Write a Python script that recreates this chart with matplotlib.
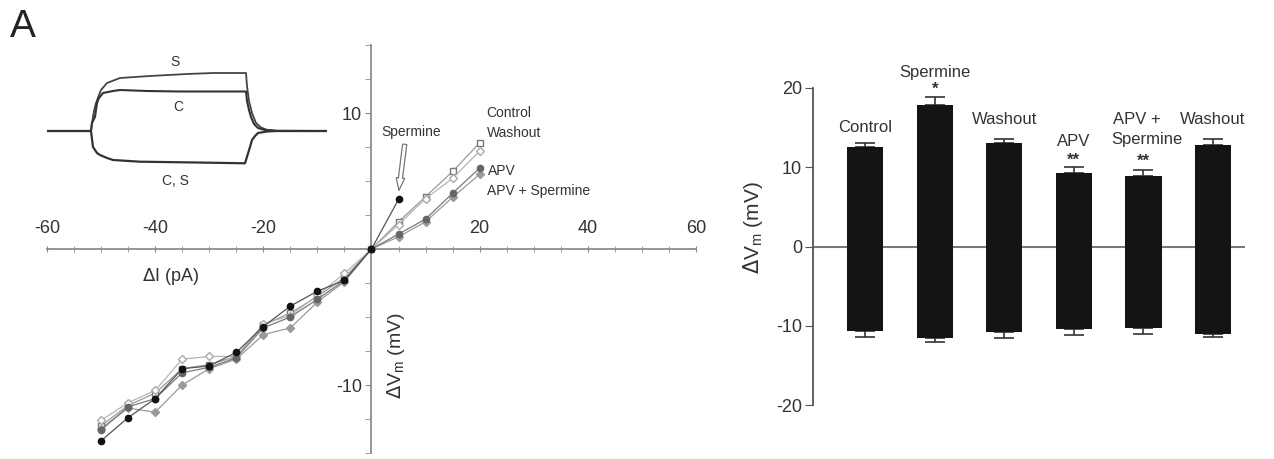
import numpy as np
import matplotlib
matplotlib.use('Agg')
import matplotlib.pyplot as plt
from matplotlib.ticker import MultipleLocator

plt.rcParams['font.family'] = ['Liberation Sans', 'DejaVu Sans']
plt.rcParams['axes.unicode_minus'] = False

# I-V data (current step in pA, voltage change in mV)
di_full = [-50, -45, -40, -35, -30, -25, -20, -15, -10, -5, 0, 5, 10, 15, 20]
di_sperm = [-50, -45, -40, -35, -30, -25, -20, -15, -10, -5, 0, 5]
dv_control = [-13.0, -11.5, -10.6, -8.8, -8.5, -7.9, -5.6, -4.7, -3.5, -2.1, 0, 2.0, 3.85, 5.7, 7.8]
dv_spermine = [-14.1, -12.4, -11.0, -8.8, -8.6, -7.6, -5.7, -4.2, -3.1, -2.3, 0, 3.65]
dv_washout = [-12.6, -11.3, -10.4, -8.1, -7.9, -7.9, -5.5, -4.9, -3.4, -1.8, 0, 1.8, 3.7, 5.2, 7.2]
dv_apv = [-13.3, -11.6, -11.0, -9.1, -8.7, -8.0, -5.8, -5.0, -3.7, -2.3, 0, 1.1, 2.2, 4.1, 5.95]
dv_apv_sperm = [-13.2, -11.7, -12.0, -10.0, -8.8, -8.1, -6.3, -5.8, -3.9, -2.4, 0, 0.9, 2.0, 3.8, 5.5]

# inset voltage traces (time, voltage), arbitrary units
tr_s_t = [0, 44, 45, 47, 49, 52, 54, 60, 73, 103, 140, 166, 199, 200, 202, 205, 209, 214, 220, 230, 280]
tr_s_v = [0, 0, 8, 20, 28, 36, 41, 48, 53, 55, 57, 58, 58, 45, 30, 18, 8, 3.5, 1.2, 0.3, 0]
tr_c_t = [0, 44, 45, 48, 50, 52, 56, 66, 73, 100, 133, 199, 200, 202, 204, 207, 211, 218, 230, 280]
tr_c_v = [0, 0, 8, 14, 28, 33, 38, 40, 41, 40, 39.5, 39.5, 30, 21, 14, 7, 3, 1, 0, 0]
tr_d_t = [0, 44, 45, 46, 50, 53, 60, 66, 93, 150, 198, 200, 203, 205, 208, 211, 220, 230, 280]
tr_d_v = [0, 0, -8, -16, -22, -24, -27, -29, -30.7, -31.5, -32.3, -25.7, -16, -9, -5, -2, -0.5, 0, 0]

# bar chart data
conditions = ['Control', 'Spermine', 'Washout', 'APV', 'APV +\nSpermine', 'Washout']
dep_mean = [12.6, 17.9, 13.0, 9.3, 8.9, 12.75]
dep_sem = [0.4, 1.0, 0.6, 0.7, 0.7, 0.85]
hyp_mean = [-10.6, -11.5, -10.8, -10.4, -10.3, -11.0]
hyp_sem = [0.8, 0.5, 0.7, 0.8, 0.7, 0.4]
signif = ['', '*', '', '**', '**', '']

W, H = 1274, 459
fig = plt.figure(figsize=(W / 100, H / 100), dpi=100)
axcol = '#8c8c8c'
txtcol = '#333333'

# ---------- left: I-V plot ----------
ax = fig.add_axes([47 / W, 1 - 453 / H, (696 - 47) / W, 408 / H])
ax.set_xlim(-60, 60)
ax.set_ylim(-15, 15)
for s in ['right', 'bottom']:
    ax.spines[s].set_visible(False)
ax.spines['top'].set_position(('data', 0))
ax.spines['left'].set_position(('data', 0))
ax.spines['top'].set_color(axcol)
ax.spines['left'].set_color(axcol)
ax.spines['top'].set_linewidth(1.3)
ax.spines['left'].set_linewidth(1.3)
ax.xaxis.set_ticks_position('top')
ax.set_xticks([-60, -40, -20, 20, 40, 60])
ax.set_yticks([-10, 10])
ax.xaxis.set_minor_locator(MultipleLocator(5))
ax.yaxis.set_minor_locator(MultipleLocator(2.5))
ax.tick_params(axis='x', which='both', direction='inout', length=5, color=axcol,
               labelsize=13, labelcolor=txtcol, pad=6)
ax.tick_params(axis='y', which='both', direction='out', length=4, color=axcol,
               labelsize=13, labelcolor=txtcol, pad=3)
ax.patch.set_alpha(0)

ax.plot(di_full, dv_control, '-', color='#9a9a9a', lw=0.9, marker='s', ms=4.5,
        mfc='white', mec='#777777', mew=1.0, zorder=3)
ax.plot(di_full, dv_washout, '-', color='#b5b5b5', lw=0.9, marker='D', ms=4,
        mfc='white', mec='#aaaaaa', mew=1.0, zorder=3)
ax.plot(di_full, dv_apv_sperm, '-', color='#9a9a9a', lw=0.9, marker='D', ms=4,
        mfc='#9a9a9a', mec='#9a9a9a', zorder=3)
ax.plot(di_full, dv_apv, '-', color='#7a7a7a', lw=0.9, marker='o', ms=4.5,
        mfc='#666666', mec='#666666', zorder=4)
ax.plot(di_sperm, dv_spermine, '-', color='#555555', lw=0.9, marker='o', ms=4.5,
        mfc='#111111', mec='#111111', zorder=5)

ax.text(-37.1, -2.0, r'$\Delta$I (pA)', fontsize=13, color=txtcol, ha='center', va='center')
ax.text(4.6, -7.8, r'$\Delta$V$_\mathregular{m}$ (mV)', fontsize=14, color=txtcol,
        ha='center', va='center', rotation=90)

ax.annotate('', xy=(5.0, 4.1), xytext=(6.2, 7.9),
            arrowprops=dict(arrowstyle='simple,head_width=0.6,head_length=0.9,tail_width=0.3',
                            fc='white', ec='#777777', lw=0.9))
ax.text(7.4, 8.6, 'Spermine', fontsize=10, color=txtcol, ha='center', va='center')
ax.text(21.3, 10.0, 'Control', fontsize=10, color=txtcol, ha='left', va='center')
ax.text(21.3, 8.5, 'Washout', fontsize=10, color=txtcol, ha='left', va='center')
ax.text(21.6, 5.7, 'APV', fontsize=10, color=txtcol, ha='left', va='center')
ax.text(21.3, 4.3, 'APV + Spermine', fontsize=10, color=txtcol, ha='left', va='center')

# inset traces
axi = fig.add_axes([47 / W, 1 - 166 / H, 280 / W, 100 / H])
axi.set_xlim(0, 280)
axi.set_ylim(-35, 65)
axi.axis('off')
axi.plot(tr_s_t, tr_s_v, color='#444444', lw=1.3)
axi.plot(tr_c_t, tr_c_v, color='#333333', lw=1.5)
axi.plot(tr_d_t, tr_d_v, color='#333333', lw=1.6)
axi.text(128, 69, 'S', fontsize=10, color=txtcol, ha='center', va='center', clip_on=False)
axi.text(131, 24, 'C', fontsize=10, color=txtcol, ha='center', va='center', clip_on=False)
axi.text(128, -50, 'C, S', fontsize=10, color=txtcol, ha='center', va='center', clip_on=False)

fig.text(10 / W, 1 - 27 / H, 'A', fontsize=28, color='#222222', ha='left', va='center')

# ---------- right: bar chart ----------
axb = fig.add_axes([813 / W, 1 - 405 / H, 432 / W, 317 / H])
x = np.arange(len(conditions))
axb.set_xlim(-0.75, 5.46)
axb.set_ylim(-20, 20)
axb.bar(x, dep_mean, width=0.52, color='#141414', zorder=3)
axb.bar(x, hyp_mean, width=0.52, color='#141414', zorder=3)
axb.errorbar(x, dep_mean, yerr=[np.zeros(len(x)), dep_sem], fmt='none',
             ecolor='#333333', elinewidth=1.2, capsize=7, capthick=1.2, zorder=2)
axb.errorbar(x, hyp_mean, yerr=[hyp_sem, np.zeros(len(x))], fmt='none',
             ecolor='#333333', elinewidth=1.2, capsize=7, capthick=1.2, zorder=2)
axb.axhline(0, color='#777777', lw=1.5, zorder=1)
for s in ['top', 'right', 'bottom']:
    axb.spines[s].set_visible(False)
axb.spines['left'].set_color('#555555')
axb.spines['left'].set_linewidth(1.3)
axb.set_xticks([])
axb.set_yticks([-20, -10, 0, 10, 20])
axb.tick_params(axis='y', direction='out', length=6, color='#555555', labelsize=13,
                labelcolor=txtcol, pad=2)
axb.set_ylabel(r'$\Delta$V$_\mathregular{m}$ (mV)', fontsize=15, color=txtcol)
axb.yaxis.set_label_coords(-0.11, 0.56)

lab_y = [15.0, 21.9, 16.0, 13.2, None, 16.0]
for i, name in enumerate(conditions):
    if lab_y[i] is not None:
        axb.text(x[i], lab_y[i], name, fontsize=12, color=txtcol, ha='center', va='center')
axb.text(3.9, 16.0, 'APV +', fontsize=12, color=txtcol, ha='center', va='center')
axb.text(4.05, 13.5, 'Spermine', fontsize=12, color=txtcol, ha='center', va='center')
sig_y = [0, 19.8, 0, 10.9, 10.7, 0]
for i, st in enumerate(signif):
    if st:
        axb.text(x[i], sig_y[i], st, fontsize=12, color=txtcol, ha='center', va='center',
                 fontweight='bold')

fig.savefig('out.png', dpi=100)
